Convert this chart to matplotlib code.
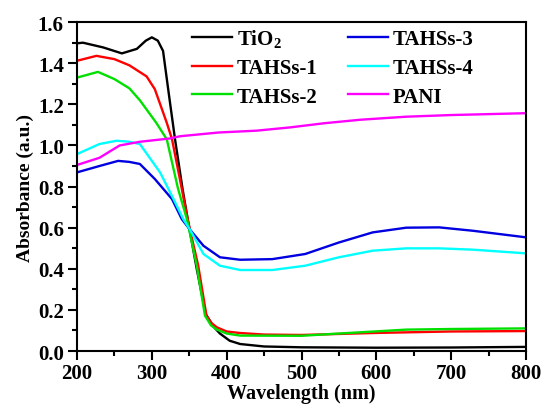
import matplotlib.pyplot as plt

# 字型設定 (Times 風格粗體)
plt.rcParams['font.family'] = ['Liberation Serif', 'DejaVu Serif']
plt.rcParams['font.weight'] = 'bold'
plt.rcParams['mathtext.fontset'] = 'custom'
plt.rcParams['mathtext.rm'] = 'Liberation Serif:bold'
plt.rcParams['mathtext.it'] = 'Liberation Serif:bold'
plt.rcParams['mathtext.bf'] = 'Liberation Serif:bold'

# 各樣品吸收光譜 (讀圖估計)
wl_tio2 = [200, 208, 235, 260, 280, 292, 300, 308, 315, 322, 331, 341, 348, 360, 372, 382, 391, 404, 418, 450, 500, 600, 700, 800]
abs_tio2 = [1.497, 1.50, 1.477, 1.448, 1.47, 1.51, 1.526, 1.51, 1.46, 1.27, 1.03, 0.79, 0.64, 0.40, 0.18, 0.12, 0.085, 0.05, 0.034, 0.022, 0.018, 0.016, 0.017, 0.02]

wl_t1 = [200, 226, 250, 270, 293, 304, 320, 327, 340, 348, 351, 362, 373, 380, 387, 400, 418, 450, 500, 600, 700, 800]
abs_t1 = [1.412, 1.436, 1.42, 1.39, 1.336, 1.274, 1.11, 1.03, 0.79, 0.64, 0.59, 0.415, 0.172, 0.135, 0.115, 0.095, 0.0875, 0.08, 0.078, 0.088, 0.095, 0.097]

wl_t2 = [200, 228, 250, 270, 284, 306, 320, 335, 347, 360, 371, 379, 387, 400, 418, 500, 550, 640, 700, 800]
abs_t2 = [1.33, 1.358, 1.323, 1.278, 1.22, 1.11, 1.03, 0.79, 0.64, 0.415, 0.172, 0.125, 0.104, 0.085, 0.075, 0.074, 0.085, 0.104, 0.107, 0.11]

wl_t3 = [200, 230, 255, 270, 284, 304, 327, 340, 351, 369, 391, 418, 461, 505, 550, 595, 640, 684, 729, 800]
abs_t3 = [0.869, 0.90, 0.925, 0.92, 0.91, 0.837, 0.739, 0.642, 0.59, 0.512, 0.456, 0.444, 0.447, 0.472, 0.528, 0.577, 0.600, 0.6015, 0.585, 0.553]

wl_t4 = [200, 230, 253, 270, 284, 311, 329, 342, 351, 369, 391, 418, 461, 505, 550, 595, 640, 684, 729, 800]
abs_t4 = [0.958, 1.007, 1.023, 1.018, 1.007, 0.869, 0.739, 0.642, 0.59, 0.472, 0.415, 0.394, 0.394, 0.415, 0.456, 0.488, 0.4995, 0.4995, 0.493, 0.475]

wl_pani = [200, 230, 257, 284, 324, 338, 389, 440, 485, 530, 578, 640, 700, 800]
abs_pani = [0.905, 0.94, 1.0, 1.018, 1.034, 1.045, 1.063, 1.072, 1.088, 1.108, 1.125, 1.14, 1.148, 1.157]

fig = plt.figure(figsize=(5.44, 4.06), dpi=100)
ax = fig.add_axes([0.1415, 0.133, 0.8255, 0.81])

ax.plot(wl_tio2, abs_tio2, color='black', lw=1.7, label='TiO$_2$')
ax.plot(wl_t1, abs_t1, color='#ff0000', lw=1.7, label='TAHSs-1')
ax.plot(wl_t2, abs_t2, color='#00e000', lw=1.7, label='TAHSs-2')
ax.plot(wl_t3, abs_t3, color='#0000e0', lw=1.7, label='TAHSs-3')
ax.plot(wl_t4, abs_t4, color='#00ffff', lw=1.7, label='TAHSs-4')
ax.plot(wl_pani, abs_pani, color='#ff00ff', lw=1.7, label='PANI')

ax.set_xlim(200, 800)
ax.set_ylim(0, 1.6)
ax.set_xticks([200, 300, 400, 500, 600, 700, 800])
ax.set_xticks([250, 350, 450, 550, 650, 750], minor=True)
ax.set_yticks([0.0, 0.2, 0.4, 0.6, 0.8, 1.0, 1.2, 1.4, 1.6])
ax.set_yticks([0.1, 0.3, 0.5, 0.7, 0.9, 1.1, 1.3, 1.5], minor=True)
ax.set_yticklabels(['0.0', '0.2', '0.4', '0.6', '0.8', '1.0', '1.2', '1.4', '1.6'])
ax.tick_params(axis='both', which='major', direction='out', length=6.5, width=1.5, labelsize=15)
ax.tick_params(axis='x', which='major', pad=2)
ax.tick_params(axis='y', which='major', pad=3)
ax.tick_params(axis='both', which='minor', direction='out', length=3.5, width=1.5)
ax.tick_params(top=False, right=False)
for s in ax.spines.values():
    s.set_linewidth(1.5)

ax.set_xlabel('Wavelength (nm)', fontsize=14.5, fontweight='bold', labelpad=0)
ax.set_ylabel('Absorbance (a.u.)', fontsize=14, fontweight='bold', labelpad=3)

ax.legend(ncol=2, loc='upper left', frameon=False, fontsize=15,
          handlelength=1.92, columnspacing=1.44, labelspacing=0.42,
          handletextpad=0.24, borderpad=0, borderaxespad=0,
          bbox_to_anchor=(0.256, 0.985))

fig.savefig('out.png', dpi=100)
